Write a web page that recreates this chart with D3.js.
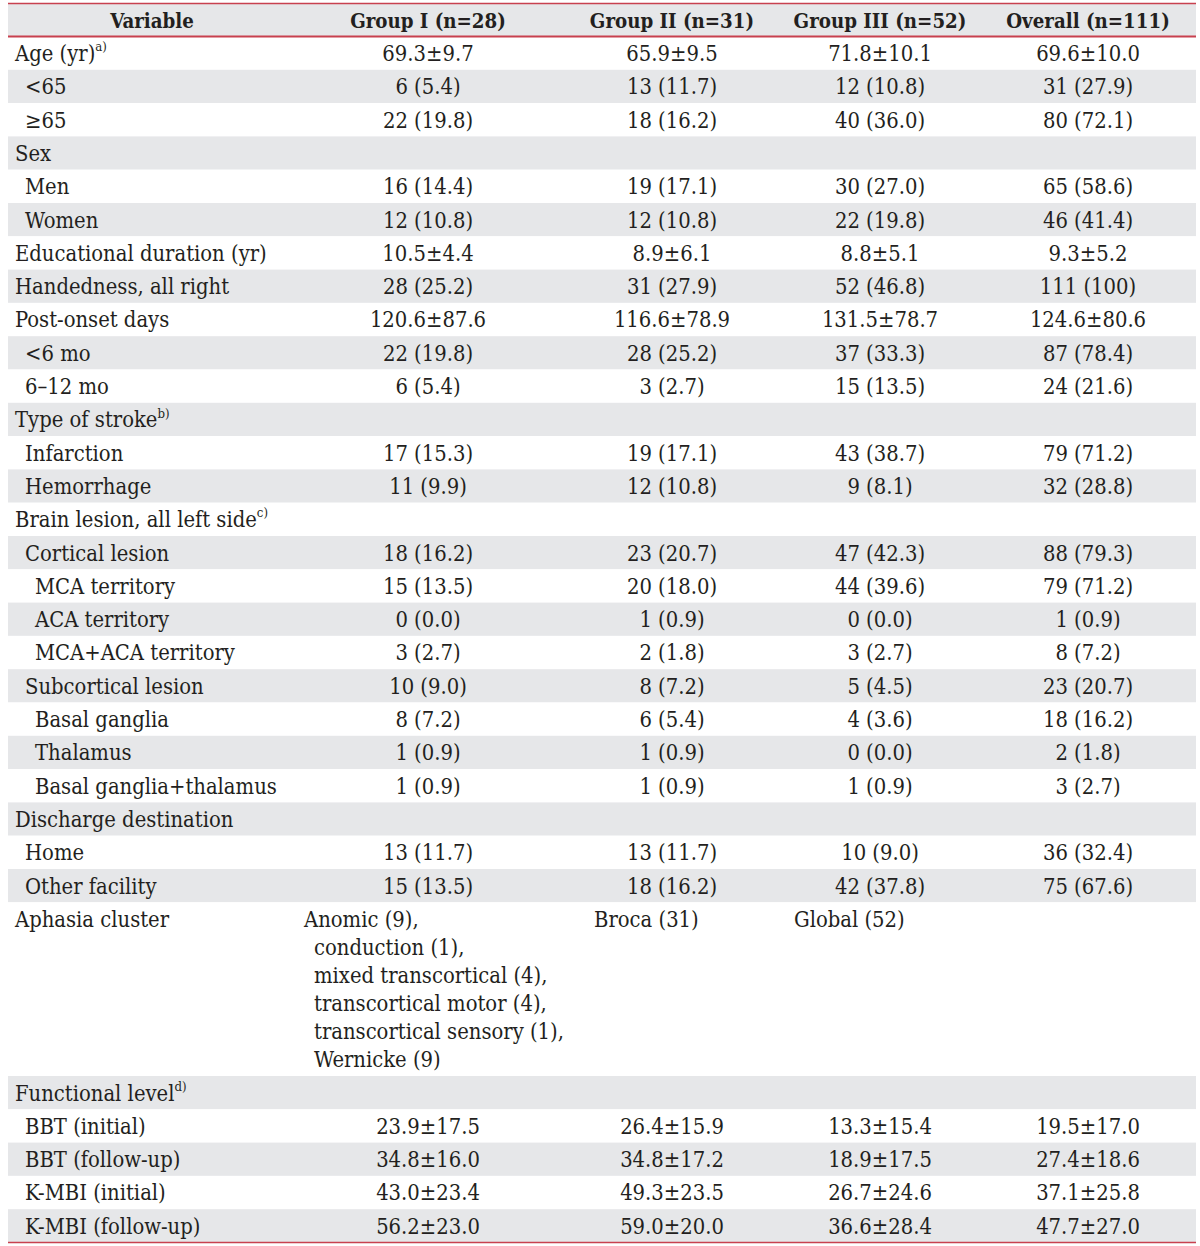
<!DOCTYPE html>
<html><head><meta charset="utf-8">
<script src="https://cdn.jsdelivr.net/npm/d3@7"></script>
<style>body{margin:0;background:#fff}svg{display:block}</style>
</head><body>
<script>
const headers = ["Variable","Group I (n=28)","Group II (n=31)","Group III (n=52)","Overall (n=111)"];
const labels = ["Age (yr)","<65","≥65","Sex","Men","Women","Educational duration (yr)","Handedness, all right","Post-onset days","<6 mo","6–12 mo","Type of stroke","Infarction","Hemorrhage","Brain lesion, all left side","Cortical lesion","MCA territory","ACA territory","MCA+ACA territory","Subcortical lesion","Basal ganglia","Thalamus","Basal ganglia+thalamus","Discharge destination","Home","Other facility","Aphasia cluster","Functional level","BBT (initial)","BBT (follow-up)","K-MBI (initial)","K-MBI (follow-up)"];
const indents = [0,1,1,0,1,1,0,0,0,1,1,0,1,1,0,1,2,2,2,1,2,2,2,0,1,1,0,0,1,1,1,1];
const notes = {0:"a)",11:"b)",14:"c)",27:"d)"};
const group1 = ["69.3±9.7","6 (5.4)","22 (19.8)","","16 (14.4)","12 (10.8)","10.5±4.4","28 (25.2)","120.6±87.6","22 (19.8)","6 (5.4)","","17 (15.3)","11 (9.9)","","18 (16.2)","15 (13.5)","0 (0.0)","3 (2.7)","10 (9.0)","8 (7.2)","1 (0.9)","1 (0.9)","","13 (11.7)","15 (13.5)","","","23.9±17.5","34.8±16.0","43.0±23.4","56.2±23.0"];
const group2 = ["65.9±9.5","13 (11.7)","18 (16.2)","","19 (17.1)","12 (10.8)","8.9±6.1","31 (27.9)","116.6±78.9","28 (25.2)","3 (2.7)","","19 (17.1)","12 (10.8)","","23 (20.7)","20 (18.0)","1 (0.9)","2 (1.8)","8 (7.2)","6 (5.4)","1 (0.9)","1 (0.9)","","13 (11.7)","18 (16.2)","","","26.4±15.9","34.8±17.2","49.3±23.5","59.0±20.0"];
const group3 = ["71.8±10.1","12 (10.8)","40 (36.0)","","30 (27.0)","22 (19.8)","8.8±5.1","52 (46.8)","131.5±78.7","37 (33.3)","15 (13.5)","","43 (38.7)","9 (8.1)","","47 (42.3)","44 (39.6)","0 (0.0)","3 (2.7)","5 (4.5)","4 (3.6)","0 (0.0)","1 (0.9)","","10 (9.0)","42 (37.8)","","","13.3±15.4","18.9±17.5","26.7±24.6","36.6±28.4"];
const overall = ["69.6±10.0","31 (27.9)","80 (72.1)","","65 (58.6)","46 (41.4)","9.3±5.2","111 (100)","124.6±80.6","87 (78.4)","24 (21.6)","","79 (71.2)","32 (28.8)","","88 (79.3)","79 (71.2)","1 (0.9)","8 (7.2)","23 (20.7)","18 (16.2)","2 (1.8)","3 (2.7)","","36 (32.4)","75 (67.6)","","","19.5±17.0","27.4±18.6","37.1±25.8","47.7±27.0"];
const aphasiaG1 = ["Anomic (9),","conduction (1),","mixed transcortical (4),","transcortical motor (4),","transcortical sensory (1),","Wernicke (9)"];
const aphasiaG2 = ["Broca (31)"];
const aphasiaG3 = ["Global (52)"];
const aphasiaRow = 26;

const W = 1200, H = 1246;
const FONT = "'DejaVu Serif Condensed', 'DejaVu Serif', serif";
const svg = d3.select("body").append("svg").attr("width", W).attr("height", H);

function styled(sel) {
  return sel.attr("font-family", FONT).attr("font-stretch", "condensed");
}
function measure(txt, size, weight) {
  const t = styled(svg.append("text")).attr("font-size", size).attr("font-weight", weight).text(txt);
  const w = t.node().getComputedTextLength(); t.remove(); return w;
}
const bodySize = Math.min(21.8, 20 * 257 / measure("Educational duration (yr)", 20, "normal"));
const headSize = Math.min(21.8, 20 * 173 / measure("Group III (n=52)", 20, "bold"));

const rowH = 33.3, lineH = 28;
const heights = labels.map((d, i) => i === aphasiaRow ? 173.7 : rowH);
const tops = [];
let acc = 36.5;
heights.forEach(h => { tops.push(acc); acc += h; });
const headTop = 4, headBottom = 36.5;

const colCenter = d3.scaleOrdinal().domain([0,1,2,3,4]).range([152, 428, 672, 880, 1088]);
const colLeft = d3.scaleOrdinal().domain([1,2,3]).range([304, 594, 794]);
const indentX = d3.scaleOrdinal().domain([0,1,2]).range([15, 25, 35]);

const gray = "#e6e7e9", red = "#c8414f", ink = "#231f20";
const x0 = 8, x1 = 1196;

svg.append("rect").attr("x", x0).attr("y", headTop).attr("width", x1 - x0).attr("height", headBottom - headTop).attr("fill", gray);
svg.selectAll("rect.row").data(labels.map((d, i) => i)).join("rect").attr("class", "row")
  .attr("x", x0).attr("y", i => tops[i]).attr("width", x1 - x0).attr("height", i => heights[i])
  .attr("fill", i => i % 2 === 1 ? gray : "#fff");

svg.append("line").attr("x1", x0).attr("x2", x1).attr("y1", 3.5).attr("y2", 3.5).attr("stroke", red).attr("stroke-width", 1.5);
svg.append("line").attr("x1", x0).attr("x2", x1).attr("y1", headBottom).attr("y2", headBottom).attr("stroke", red).attr("stroke-width", 2);
svg.append("line").attr("x1", x0).attr("x2", x1).attr("y1", acc).attr("y2", acc).attr("stroke", red).attr("stroke-width", 1.5);

styled(svg.selectAll("text.head").data(headers).join("text").attr("class", "head"))
  .attr("x", (d, i) => colCenter(i)).attr("y", (headTop + headBottom) / 2 + headSize * 0.36)
  .attr("text-anchor", "middle").attr("font-weight", "bold")
  .attr("font-size", headSize).attr("fill", ink).text(d => d);

const base = i => tops[i] + 16.7 + bodySize * 0.36;

const lab = styled(svg.selectAll("text.lab").data(labels).join("text").attr("class", "lab"))
  .attr("x", (d, i) => indentX(indents[i])).attr("y", (d, i) => base(i))
  .attr("font-size", bodySize).attr("fill", ink);
lab.append("tspan").text(d => d);
lab.filter((d, i) => notes[i]).append("tspan").attr("font-size", bodySize * 0.6).attr("dy", -bodySize * 0.45)
  .text(d => notes[labels.indexOf(d)]);

[group1, group2, group3, overall].forEach((arr, c) => {
  styled(svg.selectAll("text.v" + c).data(arr).join("text").attr("class", "v" + c))
    .attr("x", colCenter(c + 1)).attr("y", (d, i) => base(i))
    .attr("text-anchor", "middle").attr("font-size", bodySize).attr("fill", ink)
    .text(d => d);
});

[aphasiaG1, aphasiaG2, aphasiaG3].forEach((arr, c) => {
  styled(svg.selectAll("text.a" + c).data(arr).join("text").attr("class", "a" + c))
    .attr("x", (d, i) => colLeft(c + 1) + (i > 0 ? 10 : 0)).attr("y", (d, i) => base(aphasiaRow) + i * lineH)
    .attr("font-size", bodySize).attr("fill", ink).text(d => d);
});
</script>
</body></html>
